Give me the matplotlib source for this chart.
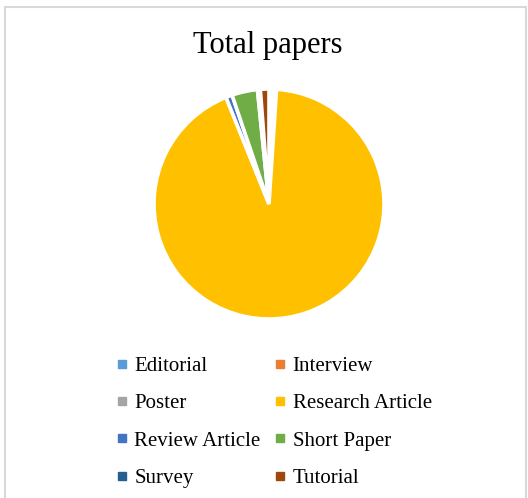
import matplotlib.pyplot as plt
from matplotlib.lines import Line2D
from matplotlib.patches import Rectangle

# share of papers per type, in percent
categories = ['Editorial', 'Interview', 'Poster', 'Research Article',
              'Review Article', 'Short Paper', 'Survey', 'Tutorial']
shares = [0.35, 0.35, 0.35, 92.8, 0.9, 3.6, 0.4, 1.2]
colors = ['#5B9BD5', '#ED7D31', '#A5A5A5', '#FFC000',
          '#4472C4', '#70AD47', '#255E91', '#9E480E']

plt.rcParams['font.family'] = ['Liberation Serif', 'DejaVu Serif']

W, H = 528, 498
fig = plt.figure(figsize=(W / 100, H / 100), dpi=100)

# chart area frame
fig.patches.append(Rectangle((5 / W, -0.05), 521 / W, 1.05 - 7 / H,
                             transform=fig.transFigure, fill=False,
                             edgecolor='#d9d9d9', linewidth=1.5))

cx, cy, r = 269, 204, 115
ax = fig.add_axes([(cx - r) / W, (H - cy - r) / H, 2 * r / W, 2 * r / H])
ax.pie(shares, colors=colors, startangle=90, counterclock=False,
       wedgeprops=dict(edgecolor='white', linewidth=2.6))
ax.set_xlim(-1, 1)
ax.set_ylim(-1, 1)
ax.set_aspect('equal')

fig.text(268 / W, 1 - 46 / H, 'Total papers', ha='center', va='center',
         fontsize=22)

handles = [Line2D([], [], marker='s', linestyle='none', markersize=6,
                  markerfacecolor=c, markeredgecolor=c) for c in colors]
# fill the two legend columns row by row
order = [0, 2, 4, 6, 1, 3, 5, 7]
fig.legend([handles[i] for i in order], [categories[i] for i in order],
           ncol=2, loc='upper left', bbox_to_anchor=(105 / W, 1 - 346 / H),
           frameon=False, fontsize=15, handlelength=0.6, handletextpad=0.3,
           labelspacing=0.85, columnspacing=0.65, borderpad=0)

fig.savefig('out.png', dpi=100)
